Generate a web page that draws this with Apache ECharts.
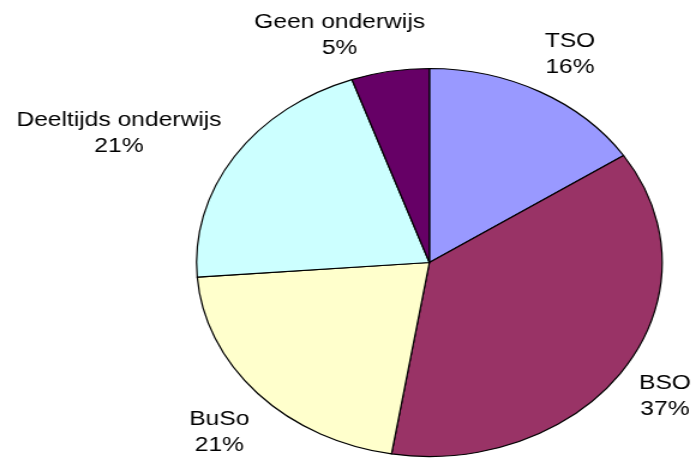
<!DOCTYPE html>
<html>
<head>
<meta charset="utf-8">
<script src="https://cdn.jsdelivr.net/npm/echarts@6/dist/echarts.min.js"></script>
<style>
  html, body { margin: 0; padding: 0; background: #fff; overflow: hidden; }
  /* the reference is a round pie stretched sideways, so draw round and stretch the canvas */
  #main { width: 577px; height: 458px; transform: scaleX(1.2); transform-origin: 0 0; }
</style>
</head>
<body>
<div id="main"></div>
<script>
var categories = ["TSO", "BSO", "BuSo", "Deeltijds onderwijs", "Geen onderwijs"];
var values = [15.7, 36.9, 21.2, 20.8, 5.4];
var colors = ["#9999FF", "#993366", "#FFFFCC", "#CCFFFF", "#660066"];
// small per-label nudges (px) to follow the reference label placement
var labelNudge = [[5, 0], [-2, 5], [2, 8], [-16, 29], [-34, 11]];

var cx = 357.8, cy = 262.5, R = 194, gap = 10;
var FONT = "Liberation Sans, Arial, sans-serif", FS = 20.5, LH = 26;
var total = values.reduce(function (a, b) { return a + b; }, 0);

var ctx = document.createElement("canvas").getContext("2d");
ctx.font = FS + "px " + FONT;
function textWidth(i) {
  var pct = Math.round(values[i] / total * 100) + "%";
  return Math.max(ctx.measureText(categories[i]).width, ctx.measureText(pct).width);
}

function midAngle(i) {
  var before = 0;
  for (var k = 0; k < i; k++) before += values[k];
  return (before + values[i] / 2) / total * 2 * Math.PI;
}

var chart = echarts.init(document.getElementById("main"));

chart.setOption({
  animation: false,
  series: [{
    type: "pie",
    center: [cx, cy],
    radius: R,
    startAngle: 90,
    clockwise: true,
    silent: true,
    avoidLabelOverlap: false,
    data: categories.map(function (name, i) {
      return { name: name, value: values[i], itemStyle: { color: colors[i] } };
    }),
    itemStyle: { borderColor: "#000", borderWidth: 1.2 },
    label: {
      show: true,
      position: "outside",
      fontFamily: FONT,
      fontSize: FS,
      lineHeight: LH,
      width: 220,
      align: "center",
      color: "#000",
      formatter: function (p) { return p.name + "\n" + Math.round(p.percent) + "%"; }
    },
    labelLine: { show: false },
    labelLayout: function (p) {
      var i = p.dataIndex;
      var a = midAngle(i);
      var ux = Math.sin(a), uy = -Math.cos(a);
      var w = textWidth(i), h = 2 * LH;
      var d = R + gap + Math.abs(ux) * w / 2 + Math.abs(uy) * h / 2;
      return {
        x: cx + ux * d + labelNudge[i][0],
        y: cy + uy * d + labelNudge[i][1],
        align: "center",
        verticalAlign: "middle"
      };
    }
  }]
});
</script>
</body>
</html>
